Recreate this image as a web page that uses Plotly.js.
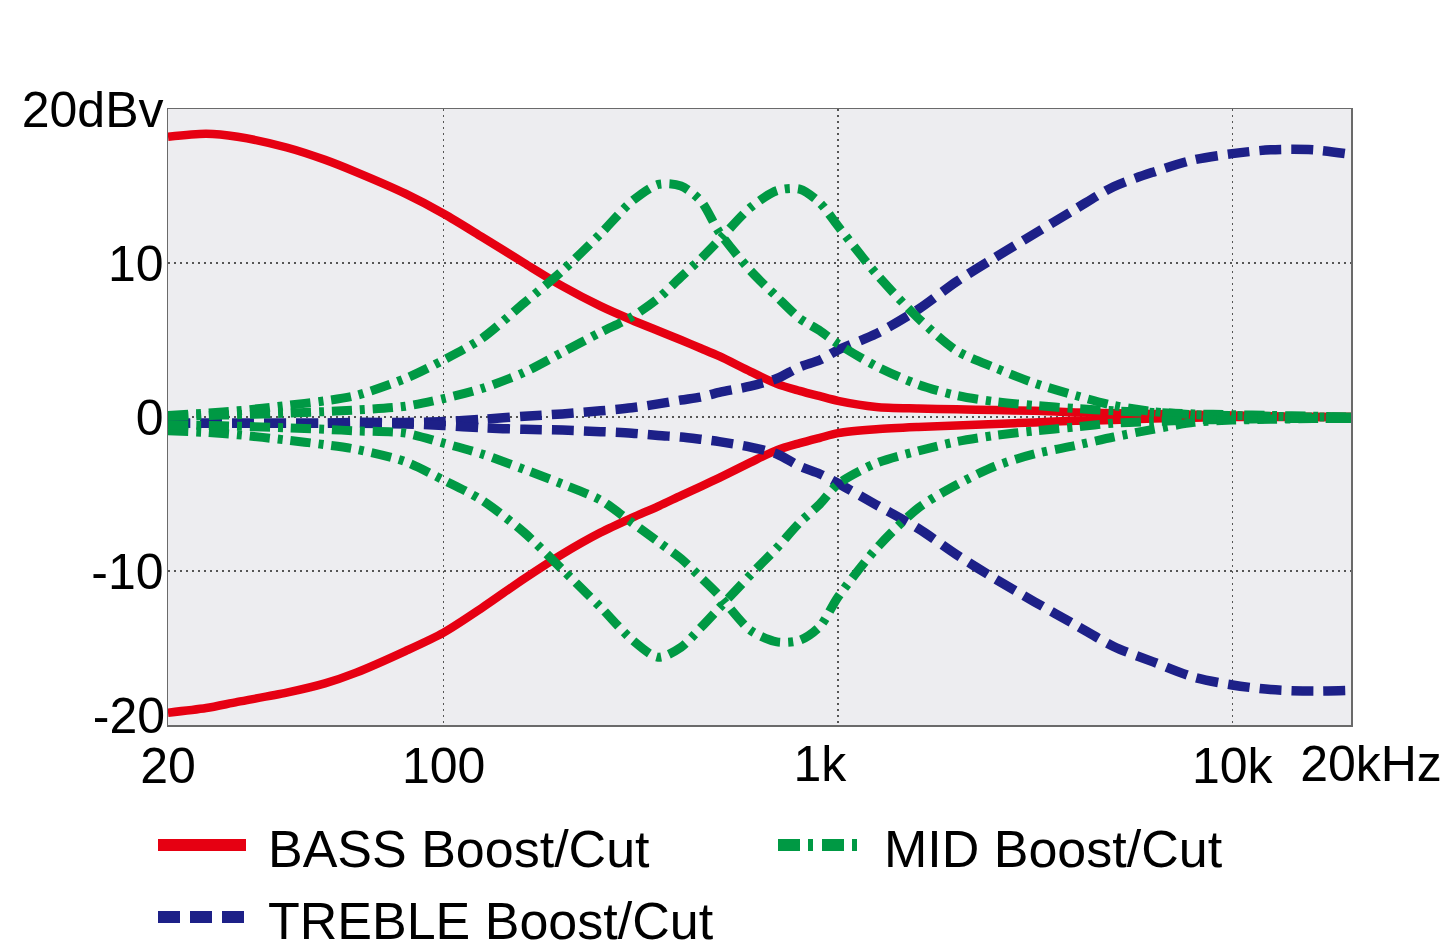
<!DOCTYPE html>
<html>
<head>
<meta charset="utf-8">
<script src="https://cdn.plot.ly/plotly-3.0.1.min.js"></script>
<style>
  html, body { margin: 0; padding: 0; background: #ffffff; }
  #chart { width: 1445px; height: 951px; }
</style>
</head>
<body>
<div id="chart"></div>
<script>
// Frequency grid (Hz) shared by every response curve
const freqHz = [20, 25, 30, 40, 50, 60, 80, 100, 125, 160, 200, 250, 300, 350, 400, 450, 500,
  600, 700, 800, 900, 1000, 1250, 1600, 2000, 2500, 3150, 4000, 5000, 6300, 8000, 10000,
  12500, 16000, 20000];

// Tone control responses, level in dBV
const bassBoost = [18.2, 18.4, 18.2, 17.5, 16.7, 15.9, 14.5, 13.2, 11.7, 10.0, 8.5, 7.2, 6.3, 5.6,
  5.0, 4.45, 3.95, 2.95, 2.15, 1.7, 1.35, 1.05, 0.65, 0.55, 0.5, 0.45, 0.4, 0.3, 0.25, 0.2, 0.15,
  0.1, 0.05, 0.0, 0.0];
const bassCut = [-19.2, -18.9, -18.5, -17.9, -17.3, -16.6, -15.2, -14.0, -12.4, -10.5, -8.9, -7.5,
  -6.55, -5.8, -5.1, -4.5, -3.95, -2.95, -2.15, -1.7, -1.35, -1.05, -0.8, -0.65, -0.55, -0.45,
  -0.35, -0.25, -0.2, -0.1, -0.05, 0.0, 0.0, 0.0, 0.0];

const trebleBoost = [-0.4, -0.4, -0.4, -0.4, -0.4, -0.35, -0.35, -0.3, -0.15, 0.05, 0.2, 0.4, 0.6,
  0.85, 1.1, 1.3, 1.6, 2.0, 2.5, 3.25, 3.7, 4.35, 5.4, 7.0, 8.8, 10.35, 11.9, 13.5, 14.95, 15.9,
  16.7, 17.1, 17.35, 17.35, 17.05];
const trebleCut = [-0.4, -0.4, -0.4, -0.4, -0.4, -0.4, -0.45, -0.55, -0.7, -0.8, -0.85, -0.95,
  -1.05, -1.2, -1.3, -1.45, -1.6, -1.95, -2.4, -3.2, -3.7, -4.3, -5.7, -7.25, -8.95, -10.5, -12.0,
  -13.5, -14.9, -15.9, -16.9, -17.4, -17.7, -17.8, -17.75];

const midLowBoost = [0.1, 0.25, 0.4, 0.75, 1.05, 1.4, 2.5, 3.7, 5.1, 7.4, 9.5, 11.9, 14.0, 15.1,
  15.0, 14.0, 12.0, 9.5, 7.8, 6.4, 5.6, 4.75, 3.3, 2.1, 1.4, 1.0, 0.75, 0.55, 0.4, 0.3, 0.2, 0.15,
  0.1, 0.05, 0.0];
const midHighBoost = [0.05, 0.1, 0.15, 0.25, 0.35, 0.45, 0.7, 1.2, 1.85, 2.9, 4.2, 5.5, 6.5, 7.7,
  9.1, 10.3, 11.5, 13.6, 14.7, 14.8, 13.9, 12.4, 9.3, 6.4, 4.3, 3.2, 2.2, 1.4, 0.75, 0.35, 0.15,
  0.1, 0.05, 0.0, 0.0];
const midLowCut = [-0.9, -1.0, -1.15, -1.5, -1.8, -2.1, -2.9, -4.1, -5.4, -7.5, -9.9, -12.35,
  -14.45, -15.6, -14.95, -13.65, -12.4, -10.25, -8.5, -6.85, -5.65, -4.35, -3.0, -2.2, -1.6,
  -1.2, -0.9, -0.65, -0.4, -0.3, -0.2, -0.15, -0.1, -0.1, -0.1];
const midHighCut = [-0.5, -0.55, -0.6, -0.7, -0.8, -0.9, -1.05, -1.7, -2.4, -3.4, -4.35, -5.4,
  -6.85, -8.1, -9.2, -10.45, -11.6, -13.85, -14.6, -14.5, -13.6, -11.7, -8.55, -5.9, -4.4, -3.2,
  -2.4, -1.85, -1.3, -0.8, -0.35, -0.2, -0.15, -0.1, -0.1];

// Axis ticks (gridlines on every tick; a few labels are set on offset overlay axes)
const xTickVals = [20, 100, 1000, 10000, 20000];
const xTickText = ['20', '100', '1k', '10k', '20kHz'];
const yTickVals = [-20, -10, 0, 10, 20];
const yTickText = ['-20', '-10', '0', '10', '20dBv'];

// Label offsets along each axis (px, as applied on screen) for ticks whose text sits off its grid line
const xLabelShift = { 1000: -18, 20000: 20 };
const yLabelShift = { '-20': -10 };

// Series: drawn red, then blue, then green
const seriesList = [
  { name: 'BASS Boost/Cut', curves: [bassBoost, bassCut], color: '#e60012', dash: 'solid', width: 8.5,
    key: { left: 158, len: 88, row: 0, dash: 'solid' } },
  { name: 'TREBLE Boost/Cut', curves: [trebleBoost, trebleCut], color: '#1d2088', dash: '22px,10px', width: 9.5,
    key: { left: 158, len: 88, row: 1, dash: '22px,10px' } },
  { name: 'MID Boost/Cut', curves: [midLowBoost, midHighBoost, midLowCut, midHighCut], color: '#009944', dash: '20px,8px,5px,8px', width: 9,
    key: { left: 778, len: 80, row: 0, dash: '22px,8px,5px,9px' } }
];

const traces = [];
seriesList.forEach(s => {
  s.curves.forEach((vals, i) => {
    traces.push({
      type: 'scatter',
      mode: 'lines',
      x: freqHz,
      y: vals,
      name: s.name,
      legendgroup: s.name,
      showlegend: false,
      line: { color: s.color, width: s.width, dash: s.dash, shape: 'spline', smoothing: 0.8 },
      hoverinfo: 'skip'
    });
  });
});

// Page geometry (px)
const W = 1445, H = 951;
const M = { l: 168, r: 94, t: 109, b: 226 };
const plotW = W - M.l - M.r, plotH = H - M.t - M.b;
const paperX = px => (px - M.l) / plotW;
const paperY = py => (H - M.b - py) / plotH;

// Key below the plot: two rows, sample line followed by its label
const rowY = [845, 917];
const keyShapes = [];
const keyNotes = [];
seriesList.forEach(s => {
  const k = s.key;
  keyShapes.push({
    type: 'line', xref: 'paper', yref: 'paper', layer: 'above',
    x0: paperX(k.left), x1: paperX(k.left + k.len),
    y0: paperY(rowY[k.row]), y1: paperY(rowY[k.row]),
    line: { color: s.color, width: 12, dash: k.dash }
  });
  keyNotes.push({
    xref: 'paper', yref: 'paper', showarrow: false,
    x: paperX(k.left + (k.left > 400 ? 104 : 108)),
    y: paperY(rowY[k.row] + 4),
    xanchor: 'left', yanchor: 'middle',
    text: s.name,
    font: { size: 52, color: '#000000', family: 'Liberation Sans, Arial, sans-serif' }
  });
});

const tickFont = { size: 50, color: '#000000', family: 'Liberation Sans, Arial, sans-serif' };
const gridStyle = { gridcolor: '#555555', griddash: '2px,4px', gridwidth: 1.5 };

const axisCommon = Object.assign({
  showgrid: true,
  showline: true,
  mirror: true,
  linecolor: '#6a6a6a',
  linewidth: 1.5,
  ticks: '',
  zeroline: false,
  fixedrange: true,
  automargin: false,
  tickfont: tickFont
}, gridStyle);

// Label-only overlay axis: one tick, shifted along the axis
function labelAxis(base, vals, texts, shift, standoff) {
  return {
    overlaying: base,
    showgrid: false,
    showline: false,
    zeroline: false,
    ticks: '',
    fixedrange: true,
    automargin: false,
    tickfont: tickFont,
    tickvals: vals,
    ticktext: texts,
    ticklabelshift: shift,
    ticklabelstandoff: standoff
  };
}

const xMainText = xTickVals.map((v, i) => (v in xLabelShift ? '' : xTickText[i]));
const yMainText = yTickVals.map((v, i) => (String(v) in yLabelShift ? '' : yTickText[i]));
const xRange = [Math.log10(20), Math.log10(20000)];
const yRange = [-20, 20];

const layout = {
  width: W,
  height: H,
  margin: { l: M.l, r: M.r, t: M.t, b: M.b },
  paper_bgcolor: '#ffffff',
  plot_bgcolor: '#ededf0',
  font: { family: 'Liberation Sans, Arial, sans-serif', color: '#000000' },
  showlegend: false,
  xaxis: Object.assign({}, axisCommon, {
    type: 'log', range: xRange, tickvals: xTickVals, ticktext: xMainText, ticklabelstandoff: -4
  }),
  yaxis: Object.assign({}, axisCommon, {
    range: yRange, tickvals: yTickVals, ticktext: yMainText, ticklabelstandoff: -7, ticklabelshift: 0
  }),
  shapes: keyShapes,
  annotations: keyNotes
};

// Overlay axes carrying the shifted labels; each gets an empty trace so its subplot is built
let axN = 2;
xTickVals.forEach((v, i) => {
  if (!(v in xLabelShift)) return;
  layout['xaxis' + axN] = Object.assign(labelAxis('x', [v], [xTickText[i]], xLabelShift[v], 5),
    { type: 'log', range: xRange, anchor: 'y', side: 'bottom' });
  traces.push({ type: 'scatter', mode: 'lines', x: [], y: [], xaxis: 'x' + axN, yaxis: 'y',
    showlegend: false, hoverinfo: 'skip' });
  axN++;
});
let ayN = 2;
yTickVals.forEach((v, i) => {
  if (!(String(v) in yLabelShift)) return;
  layout['yaxis' + ayN] = Object.assign(labelAxis('y', [v], [yTickText[i]], yLabelShift[String(v)], 2),
    { range: yRange, anchor: 'x', side: 'left' });
  traces.push({ type: 'scatter', mode: 'lines', x: [], y: [], xaxis: 'x', yaxis: 'y' + ayN,
    showlegend: false, hoverinfo: 'skip' });
  ayN++;
});

Plotly.newPlot('chart', traces, layout, { staticPlot: true, displayModeBar: false });
</script>
</body>
</html>
